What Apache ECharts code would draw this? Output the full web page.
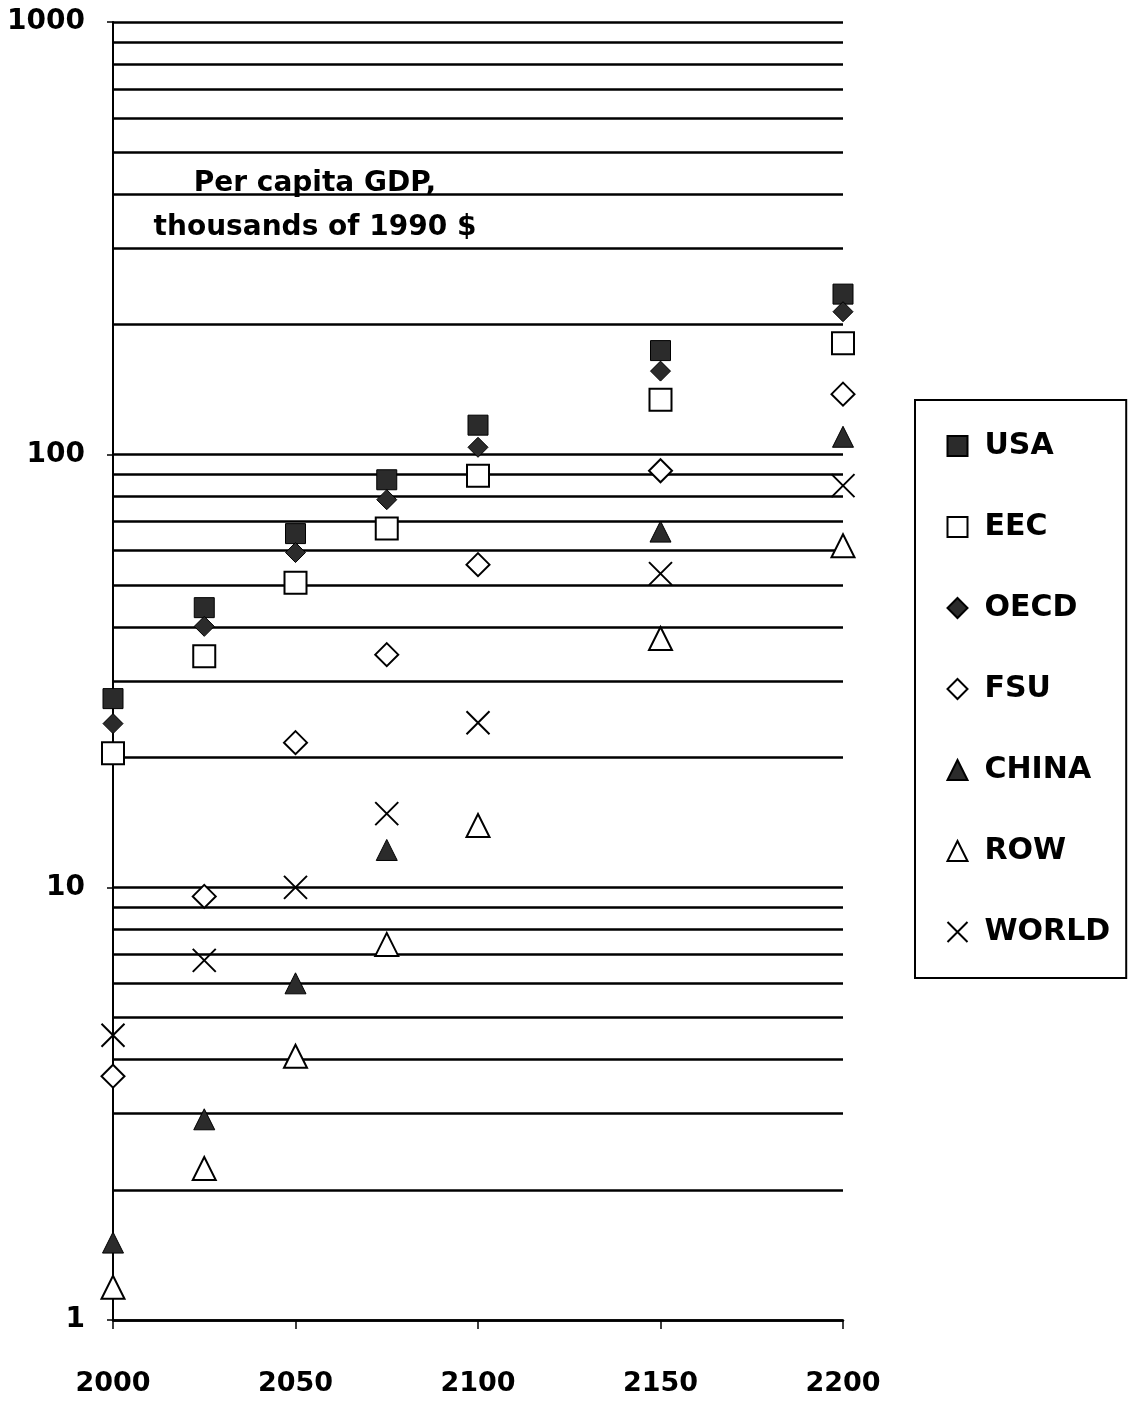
<!DOCTYPE html>
<html><head><meta charset="utf-8">
<script src="https://cdn.jsdelivr.net/npm/echarts@6/dist/echarts.min.js"></script>
<style>html,body{margin:0;padding:0;background:#fff}#c{width:1138px;height:1414px}</style>
</head><body><div id="c"></div>
<script>
const years = [2000, 2025, 2050, 2075, 2100, 2150, 2200];
const usa   = [27.3, 44.3, 65.7, 87.5, 117, 174, 235];
const eec   = [20.4, 34.2, 50.6, 67.5, 89.4, 134, 181];
const oecd  = [23.9, 40.1, 59.4, 78.7, 104, 156, 214];
const fsu   = [3.66, 9.53, 21.6, 34.5, 55.7, 91.8, 138];
const china = [1.51, 2.91, 6.0, 12.2, null, 66.4, 110];
const row   = [1.19, 2.24, 4.07, 7.38, 13.9, 37.6, 61.6];
const world = [4.55, 6.78, 10.0, 14.8, 24.0, 53.1, 84.8];
const gridValues = [2,3,4,5,6,7,8,9,20,30,40,50,60,70,80,90,200,300,400,500,600,700,800,900];
const xTicks = [2000, 2050, 2100, 2150, 2200];
const yTicks = [1, 10, 100, 1000];
const annotation = 'Per capita GDP,\nthousands of 1990 $';

const FONT = '"DejaVu Sans", "Liberation Sans", Arial, sans-serif';
const crossPath = 'path://M0,0L10,10M10,0L0,10';

function pts(arr){ return years.map((y,i)=> arr[i]==null ? null : [y, arr[i]]).filter(p=>p); }

function mk(name, data, symbol, size, filled){
  return {
    name, type:'scatter', data: pts(data), symbol, symbolSize: size, z: 5,
    itemStyle: filled ? {color:'#2b2b2b', borderColor:'#000', borderWidth:1, opacity:1}
                      : {color:'#fff', borderColor:'#000', borderWidth:2, opacity:1}
  };
}

const series = [
  {type:'line', data:[], silent:true, z:1,
   markLine:{silent:true, symbol:['none','none'], label:{show:false},
     lineStyle:{color:'#000', width:2.5, type:'solid'},
     data: gridValues.map(v=>({yAxis:v}))}},
  mk('USA', usa, 'rect', 20, true),
  mk('EEC', eec, 'rect', 22, false),
  mk('OECD', oecd, 'diamond', 20, true),
  mk('FSU', fsu, 'diamond', 23, false),
  mk('CHINA', china, 'triangle', 21, true),
  mk('ROW', row, 'triangle', 23, false),
  {name:'WORLD', type:'scatter', data: pts(world), symbol: crossPath, symbolSize: 23, z:5,
   itemStyle:{color:'none', borderColor:'#000', borderWidth:2, opacity:1}}
];

const chart = echarts.init(document.getElementById('c'), null, {renderer:'canvas'});
chart.setOption({
  backgroundColor:'#fff',
  animation:false,
  title:{text: annotation, left: 310, top: 157, textAlign:'center',
    textStyle:{fontFamily:FONT, fontWeight:'bold', fontSize:28, lineHeight:44, color:'#000'}},
  grid:{left:113, right:295, top:22, bottom:94, containLabel:false},
  xAxis:{type:'value', min:2000, max:2200, interval:50,
    axisLine:{lineStyle:{color:'#000', width:2.5}},
    axisTick:{show:true, length:9, lineStyle:{color:'#000', width:1.5}},
    axisLabel:{fontFamily:FONT, fontWeight:'bold', fontSize:27, color:'#000', margin:50,
      formatter: v => xTicks.includes(v) ? String(v) : ''},
    splitLine:{show:false}},
  yAxis:{type:'log', logBase:10, min:1, max:1000,
    axisLine:{show:true, lineStyle:{color:'#000', width:2}},
    axisTick:{show:true, length:6, lineStyle:{color:'#000', width:1.5}},
    axisLabel:{fontFamily:FONT, fontWeight:'bold', fontSize:28, color:'#000', margin:28,
      formatter: v => yTicks.includes(Math.round(v)) ? String(Math.round(v)) : ''},
    splitLine:{show:true, lineStyle:{color:'#000', width:2.5}}},
  legend:{orient:'vertical', left:915, top:400,
    data:['USA','EEC','OECD','FSU','CHINA','ROW','WORLD'],
    itemWidth:20, itemHeight:20, itemGap:51,
    padding:[31, 16, 31, 30],
    borderColor:'#000', borderWidth:2, backgroundColor:'#fff',
    textStyle:{fontFamily:FONT, fontWeight:'bold', fontSize:30, color:'#000', lineHeight:30, padding:[0,0,0,12]}},
  series
});
</script></body></html>
